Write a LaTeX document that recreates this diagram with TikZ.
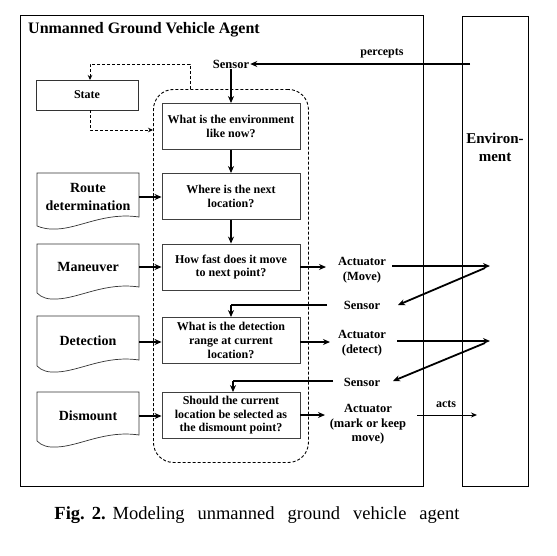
\documentclass[tikz,border=0pt]{standalone}
\usepackage{fontspec}
\setmainfont{Liberation Serif}
\usetikzlibrary{arrows.meta}
\begin{document}
\begin{tikzpicture}[x=1pt,y=-1pt,
  lbl/.style={font=\bfseries\fontsize{12.5}{14.5}\selectfont, align=center, inner sep=1pt},
  qbox/.style={draw=black!75, line width=0.9pt, minimum width=138pt, minimum height=46pt, align=center, inner sep=1pt, font=\bfseries\fontsize{12}{13.6}\selectfont},
  doctext/.style={font=\bfseries\fontsize{14}{17.5}\selectfont, align=center, inner sep=0pt},
  docshape/.style={draw=black!80, line width=0.7pt},
  thk/.style={line width=1.8pt, -{Stealth[length=7pt,width=6pt]}},
  thkline/.style={line width=1.8pt},
  dsh/.style={dashed, line width=0.9pt, dash pattern=on 3pt off 2pt},
  dsharrow/.style={dsh, -{Stealth[length=5pt,width=4.5pt]}}
]
\useasboundingbox (0,0) rectangle (557,555);
% frames
\node[draw, line width=1pt, minimum width=403pt, minimum height=471pt, inner sep=0, anchor=north west] (agent) at (20,15) {};
\node[draw, line width=1pt, minimum width=66pt, minimum height=470pt, inner sep=0, anchor=north west] (env) at (462,16) {};
\node[font=\bfseries\fontsize{16}{18}\selectfont, anchor=west, inner sep=0] (title) at (28,30) {Unmanned Ground Vehicle Agent};
\node[font=\bfseries\fontsize{15}{18}\selectfont, align=center, inner sep=0] (envtext) at (495,147) {Environ-\\ment};
% dashed container
\node[draw, dsh, rounded corners=20pt, minimum width=155pt, minimum height=373pt, inner sep=0, anchor=north west] (cont) at (153,89) {};
% sensor top
\node[lbl] (sensor1) at (231,64) {Sensor};
\coordinate (envp) at (470,64);
\draw[thk] (envp) -- (sensor1.east);
\node[font=\bfseries\fontsize{12}{14}\selectfont, inner sep=0] (percepts) at (382,53) {percepts};
% state
\node[draw=black!80, line width=0.8pt, minimum width=102pt, minimum height=30pt, inner sep=0, font=\bfseries\fontsize{12}{14}\selectfont] (state) at (87,95) {State};
\coordinate (d1) at (190,89);
\coordinate (d2) at (190,64);
\coordinate (d3) at (90,64);
\coordinate (d4) at (90,80);
\draw[dsharrow] (d1) -- (d2) -- (d3) -- (d4);
\coordinate (s1) at (90,110);
\coordinate (s2) at (90,130);
\coordinate (s3) at (153,130);
\draw[dsharrow] (s1) -- (s2) -- (s3);
% question boxes
\node[qbox] (q1) at (231,126.5) {What is the environment\\like now?};
\node[qbox] (q2) at (231,196.5) {Where is the next\\location?};
\node[qbox] (q3) at (231,267) {How fast does it move\\to next point?};
\node[qbox] (q4) at (231,340.5) {What is the detection\\range at current\\location?};
\node[qbox] (q5) at (231,415.5) {Should the current\\location be selected as\\the dismount point?};
\draw[thk] (sensor1.south) -- (q1.north);
\draw[thk] (q1.south) -- (q2.north);
\draw[thk] (q2.south) -- (q3.north);
% documents
\draw[docshape] (37,226) -- (37,173) -- (139,173) -- (139,217) .. controls (105,212) and (80,228) .. (57,229) .. controls (48,229.5) and (42,228) .. (37,226);
\node[doctext] (route) at (88,197) {Route\\determination};
\draw[docshape] (37,293) -- (37,244) -- (139,244) -- (139,287) .. controls (105,282) and (80,298) .. (57,299) .. controls (48,299.5) and (42,298) .. (37,293);
\node[doctext] (man) at (88,267) {Maneuver};
\draw[docshape] (37,366) -- (37,316) -- (139,316) -- (139,360) .. controls (105,355) and (80,371) .. (57,372) .. controls (48,372.5) and (42,371) .. (37,366);
\node[doctext] (det) at (88,341) {Detection};
\draw[docshape] (37,441) -- (37,392) -- (139,392) -- (139,435) .. controls (105,430) and (80,446) .. (57,447) .. controls (48,447.5) and (42,446) .. (37,441);
\node[doctext] (dis) at (88,416) {Dismount};
\coordinate (routee) at (139,197);
\coordinate (mane) at (139,267);
\coordinate (dete) at (139,342);
\coordinate (dise) at (139,416);
\draw[thk] (routee) -- (q2.west |- routee);
\draw[thk] (mane) -- (q3.west |- mane);
\draw[thk] (dete) -- (q4.west |- dete);
\draw[thk] (dise) -- (q5.west |- dise);
% actuators and sensors
\node[lbl] (act1) at (362,270) {Actuator\\(Move)};
\node[lbl] (sensor2) at (362,305) {Sensor};
\node[lbl] (act2) at (362,343) {Actuator\\(detect)};
\node[lbl] (sensor3) at (362,382) {Sensor};
\node[lbl] (act3) at (368,424.5) {Actuator\\(mark or keep\\move)};
\draw[thk] (q3.east |- 0,267) -- (326,267);
\draw[thk] (q4.east |- 0,342) -- (330,342);
\draw[thk] (q5.east |- 0,415) -- (325,415);
\coordinate (e1) at (490,266);
\coordinate (e1b) at (485,268);
\coordinate (e2) at (490,341);
\coordinate (e2b) at (485,343);
\draw[thk] (392,266) -- (e1);
\draw[thk] (e1b) -- (398,305);
\draw[thk] (397,341) -- (e2);
\draw[thk] (e2b) -- (393,381);
\coordinate (c2) at (231,305);
\coordinate (c3) at (233,381);
\draw[thkline] (327,305) -- (c2);
\draw[thk] (c2) -- (q4.north -| c2);
\draw[thkline] (333,381) -- (c3);
\draw[thk] (c3) -- (q5.north -| c3);
\coordinate (acte) at (477,415);
\draw[line width=1pt, -{Stealth[length=6pt,width=5pt]}] (417,415) -- (acte);
\node[font=\bfseries\fontsize{12}{14}\selectfont, inner sep=0] (acts) at (446,404) {acts};
% caption
\node[font=\fontsize{18.5}{22}\selectfont, inner sep=0] (cap) at (257,515) {\textbf{Fig.\hspace{7pt}2.}\hspace{7pt}Modeling\hspace{13pt}unmanned\hspace{13pt}ground\hspace{13pt}vehicle\hspace{13pt}agent};
\end{tikzpicture}
\end{document}
